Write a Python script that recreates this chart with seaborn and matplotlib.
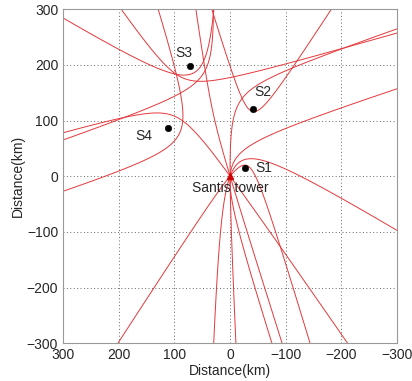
import numpy as np
import matplotlib
matplotlib.use("Agg")
import matplotlib.pyplot as plt
import seaborn as sns
import pandas as pd

# station positions (km), x axis runs 300 -> -300
station_names = ['S1', 'S2', 'S3', 'S4']
station_x = [-27, -42, 72, 112]
station_y = [15, 121, 198, 86]
# where the station names are written
label_x = [-60, -59, 83, 155]
label_y = [15, 152, 221, 72]
tower_x = [0]
tower_y = [0]

# station pairs whose hyperbola is drawn, and whether the second branch is shown
pair_a = [0, 0, 0, 1, 1, 2]
pair_b = [1, 2, 3, 2, 3, 3]
pair_both = [True, True, True, True, False, True]

sns.set_style("white")
plt.rcParams['font.family'] = ['Liberation Sans', 'DejaVu Sans']

fig, ax = plt.subplots(figsize=(4.12, 3.81), dpi=100)
fig.subplots_adjust(left=0.153, right=0.964, top=0.976, bottom=0.099)

# TDOA hyperbolas passing through the tower
gx = np.linspace(-300, 300, 1201)
X, Y = np.meshgrid(gx, gx)
for i, j, both in zip(pair_a, pair_b, pair_both):
    xi, yi = station_x[i], station_y[i]
    xj, yj = station_x[j], station_y[j]
    diff = np.hypot(X - xi, Y - yi) - np.hypot(X - xj, Y - yj)
    c = np.hypot(tower_x[0] - xi, tower_y[0] - yi) - np.hypot(tower_x[0] - xj, tower_y[0] - yj)
    levels = sorted([c, -c]) if both else [c]
    ax.contour(X, Y, diff, levels=levels, colors='#e5383b',
               linewidths=0.7, linestyles='solid')

stations = pd.DataFrame({'name': station_names, 'x': station_x, 'y': station_y})
sns.scatterplot(data=stations, x='x', y='y', color='black', s=22, ax=ax, zorder=5, edgecolor='black')
ax.plot(tower_x, tower_y, marker='^', color='#d00000', markersize=5, zorder=6, linestyle='none')

for n, x, y in zip(station_names, label_x, label_y):
    ax.text(x, y, n, fontsize=10, ha='center', va='center')
ax.text(0, -22, 'Santis tower', fontsize=10, ha='center', va='center')

ax.set_xlim(300, -300)
ax.set_ylim(-300, 300)
ax.set_xticks(range(-300, 301, 100))
ax.set_yticks(range(-300, 301, 100))
ax.grid(True, linestyle=(0, (1, 2.5)), color='#666666', linewidth=0.7)
for s in ax.spines.values():
    s.set_color('#999999')
ax.tick_params(labelsize=10, length=0)
ax.set_xlabel('Distance(km)', fontsize=10, labelpad=1)
ax.set_ylabel('Distance(km)', fontsize=10, labelpad=1)

fig.savefig('out.png', dpi=100)
